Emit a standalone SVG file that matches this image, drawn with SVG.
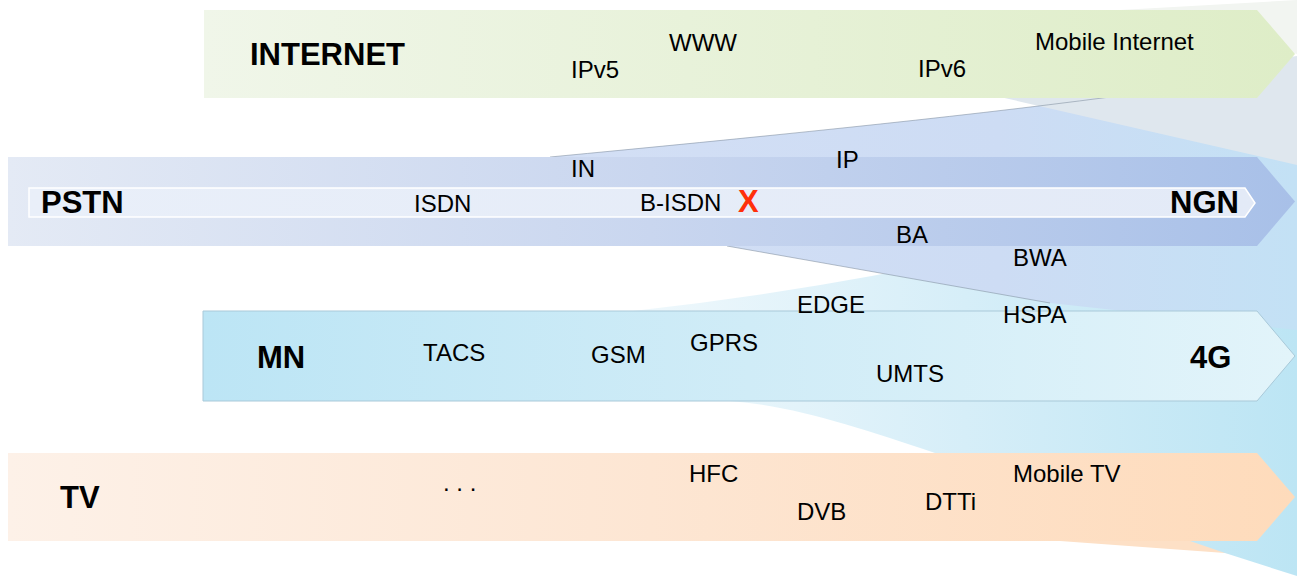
<svg xmlns="http://www.w3.org/2000/svg" width="1297" height="576" viewBox="0 0 1297 576">
<defs>
  <linearGradient id="gInternet" gradientUnits="userSpaceOnUse" x1="204" y1="0" x2="1295" y2="0">
    <stop offset="0" stop-color="#f0f6e9"/><stop offset="1" stop-color="#deedc7"/>
  </linearGradient>
  <linearGradient id="gPstn" gradientUnits="userSpaceOnUse" x1="8" y1="0" x2="1295" y2="0">
    <stop offset="0" stop-color="#e4eaf5"/><stop offset="0.5" stop-color="#c9d6ef"/><stop offset="1" stop-color="#a8c0e8"/>
  </linearGradient>
  <linearGradient id="gPstnIn" gradientUnits="userSpaceOnUse" x1="29" y1="0" x2="1255" y2="0">
    <stop offset="0" stop-color="#e9eff9"/><stop offset="1" stop-color="#e3eaf7"/>
  </linearGradient>
  <linearGradient id="gMn" gradientUnits="userSpaceOnUse" x1="203" y1="0" x2="1295" y2="0">
    <stop offset="0" stop-color="#bce5f5"/><stop offset="0.5" stop-color="#d0ecf7"/><stop offset="1" stop-color="#e2f4fa"/>
  </linearGradient>
  <linearGradient id="gTv" gradientUnits="userSpaceOnUse" x1="8" y1="0" x2="1295" y2="0">
    <stop offset="0" stop-color="#fdf1e8"/><stop offset="0.5" stop-color="#fde6d3"/><stop offset="1" stop-color="#fedbbb"/>
  </linearGradient>
  <linearGradient id="gCyan" gradientUnits="userSpaceOnUse" x1="633" y1="0" x2="1297" y2="0">
    <stop offset="0" stop-color="#eff8fc"/><stop offset="0.5" stop-color="#d6eef8"/><stop offset="1" stop-color="#bce5f4"/>
  </linearGradient>
  <linearGradient id="gBlue" gradientUnits="userSpaceOnUse" x1="550" y1="0" x2="1297" y2="0">
    <stop offset="0" stop-color="#d3dff5"/><stop offset="0.6" stop-color="#cddcf4"/><stop offset="1" stop-color="#c3e1f5"/>
  </linearGradient>
</defs>
<style>
  .lbl{font-family:"Liberation Sans",Arial,sans-serif;font-size:24px;fill:#000}
  .ttl{font-family:"Liberation Sans",Arial,sans-serif;font-size:31px;font-weight:bold;fill:#000}
  .cross{font-family:"Liberation Sans",Arial,sans-serif;font-size:31px;font-weight:bold;fill:#ff300a}
  .edge{fill:none;stroke:#7d8c9c;stroke-opacity:0.55;stroke-width:1}
</style>
<rect width="1297" height="576" fill="#ffffff"/>

<g id="connectors">
  <path d="M1120,10 L1297,0 L1297,54 Z" fill="#f2f5f1"/>
  <path d="M1060,541 L1225,553 L1297,560 L1297,541 Z" fill="#fde0c6"/>
  <path d="M633,311 Q1000,270 1297,163 L1297,576 L1225,553 L1190,541 L935,453 C860,428 795,406 730,401 Z" fill="url(#gCyan)"/>
  <path d="M550,157 C750,138 950,118 1110,97 L1297,60 L1297,330 L1050,303 L727,246 Z" fill="url(#gBlue)"/>
  <path d="M1000,97 L1297,165 L1297,56 Z" fill="#dfe7ee"/>
  <path class="edge" d="M550,157 C750,138 950,118 1110,97"/>
  <path class="edge" d="M727,246 L1050,303" stroke-opacity="0.25"/>
</g>

<g id="internet">
  <path d="M204,10 H1257 L1295,54 L1257,98 H204 Z" fill="url(#gInternet)"/>
  <text class="ttl" x="250" y="65">INTERNET</text>
  <text class="lbl" x="669" y="51">WWW</text>
  <text class="lbl" x="571" y="78">IPv5</text>
  <text class="lbl" x="918" y="77">IPv6</text>
  <text class="lbl" x="1035" y="50">Mobile Internet</text>
</g>

<g id="pstn">
  <path d="M8,157 H1257 L1295,201.5 L1257,246 H8 Z" fill="url(#gPstn)"/>
  <path d="M29,188 H1245 L1255,203 L1245,217 H29 Z" fill="url(#gPstnIn)" stroke="#ffffff" stroke-width="1.5"/>
  <text class="ttl" x="41" y="213">PSTN</text>
  <text class="lbl" x="571" y="177">IN</text>
  <text class="lbl" x="836" y="168">IP</text>
  <text class="lbl" x="414" y="212">ISDN</text>
  <text class="lbl" x="640" y="211">B-ISDN</text>
  <text class="cross" x="738" y="212">X</text>
  <text class="ttl" x="1170" y="213">NGN</text>
  <text class="lbl" x="896" y="243">BA</text>
  <text class="lbl" x="1013" y="266">BWA</text>
</g>

<g id="mn">
  <path d="M203,311 H1257 L1295,356 L1257,401 H203 Z" fill="url(#gMn)" stroke="#a9c9d9" stroke-width="1"/>
  <text class="lbl" x="797" y="313">EDGE</text>
  <text class="lbl" x="1003" y="323">HSPA</text>
  <text class="ttl" x="257" y="368">MN</text>
  <text class="lbl" x="423" y="361">TACS</text>
  <text class="lbl" x="591" y="363">GSM</text>
  <text class="lbl" x="690" y="351">GPRS</text>
  <text class="lbl" x="876" y="382">UMTS</text>
  <text class="ttl" x="1190" y="368">4G</text>
</g>

<g id="tv">
  <path d="M8,453 H1257 L1295,497 L1257,541 H8 Z" fill="url(#gTv)"/>
  <text class="ttl" x="60" y="508">TV</text>
  <text class="lbl" x="443" y="491">. . .</text>
  <text class="lbl" x="689" y="482">HFC</text>
  <text class="lbl" x="797" y="520">DVB</text>
  <text class="lbl" x="925" y="510">DTTi</text>
  <text class="lbl" x="1013" y="482">Mobile TV</text>
</g>
</svg>
